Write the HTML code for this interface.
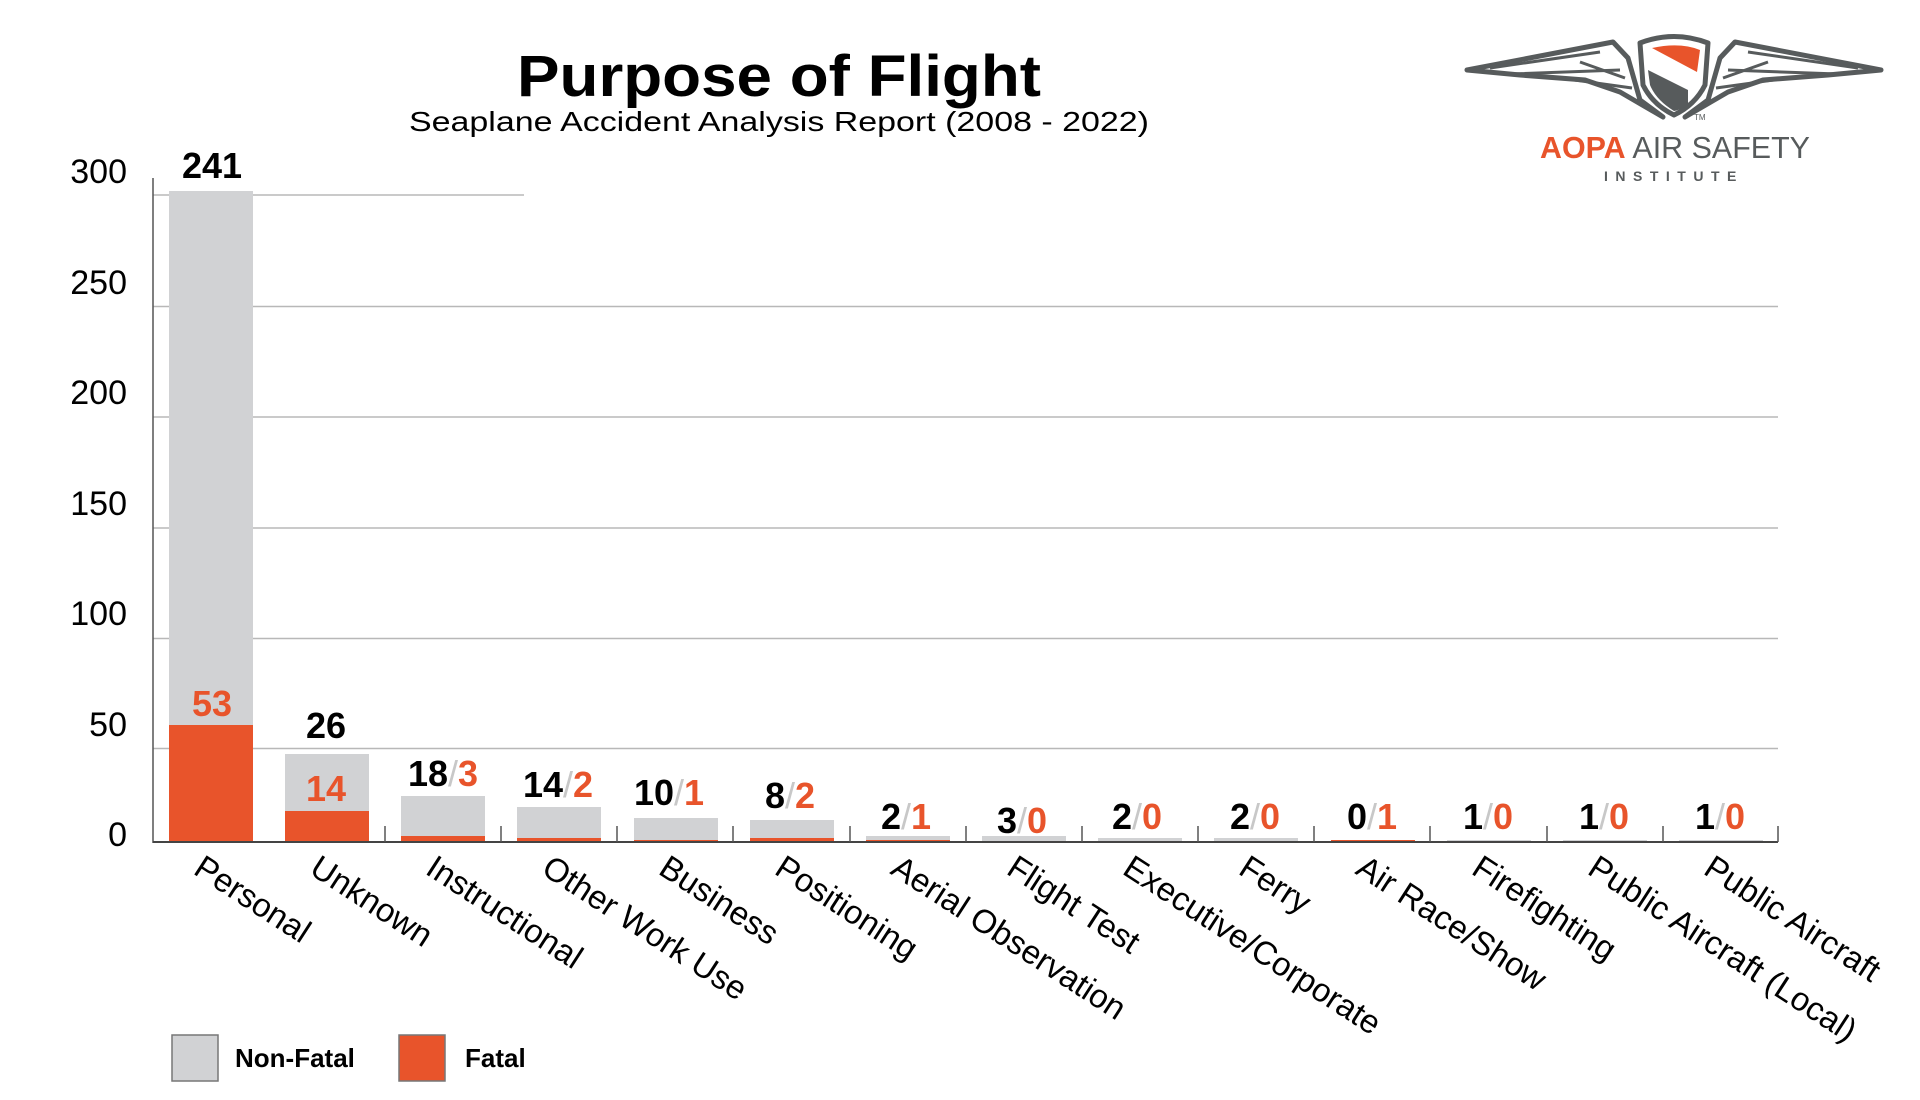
<!DOCTYPE html>
<html><head><meta charset="utf-8"><style>
html,body{margin:0;padding:0;background:#fff;}
svg{display:block;font-family:"Liberation Sans",sans-serif;}
</style></head><body>
<svg width="1920" height="1100" viewBox="0 0 1920 1100" xmlns="http://www.w3.org/2000/svg">
<rect width="1920" height="1100" fill="#fff"/>
<text x="517" y="96" font-size="58" font-weight="bold" fill="#000" textLength="524" lengthAdjust="spacingAndGlyphs">Purpose of Flight</text>
<text x="409" y="131" font-size="28" fill="#000" textLength="740" lengthAdjust="spacingAndGlyphs">Seaplane Accident Analysis Report (2008 - 2022)</text>

<!-- gridlines -->
<g stroke="#b8b8b8" stroke-width="1.5">
<line x1="153" y1="195" x2="524" y2="195"/>
<line x1="153" y1="306.5" x2="1778" y2="306.5"/>
<line x1="153" y1="417" x2="1778" y2="417"/>
<line x1="153" y1="528" x2="1778" y2="528"/>
<line x1="153" y1="638.5" x2="1778" y2="638.5"/>
<line x1="153" y1="748.5" x2="1778" y2="748.5"/>
</g>
<g font-size="34" fill="#000" text-anchor="end">
<text x="127" y="183">300</text>
<text x="127" y="294">250</text>
<text x="127" y="404">200</text>
<text x="127" y="515">150</text>
<text x="127" y="625">100</text>
<text x="127" y="736">50</text>
<text x="127" y="846">0</text>
</g>

<!-- bars -->
<g fill="#d1d2d4">
<rect x="169" y="191" width="84" height="651"/>
<rect x="285" y="754" width="84" height="88"/>
<rect x="401" y="796" width="84" height="46"/>
<rect x="517" y="807" width="84" height="35"/>
<rect x="634" y="818" width="84" height="24"/>
<rect x="750" y="820" width="84" height="22"/>
<rect x="866" y="836" width="84" height="6"/>
<rect x="982" y="836" width="84" height="6"/>
<rect x="1098" y="838" width="84" height="4"/>
<rect x="1214" y="838" width="84" height="4"/>
<rect x="1447" y="840" width="84" height="2"/>
<rect x="1563" y="840" width="84" height="2"/>
<rect x="1679" y="840" width="84" height="2"/>
</g>
<g fill="#e8542b">
<rect x="169" y="725" width="84" height="117"/>
<rect x="285" y="811" width="84" height="31"/>
<rect x="401" y="836" width="84" height="6"/>
<rect x="517" y="838" width="84" height="4"/>
<rect x="634" y="840" width="84" height="2"/>
<rect x="750" y="838" width="84" height="4"/>
<rect x="866" y="840" width="84" height="2"/>
<rect x="1331" y="840" width="84" height="2"/>
</g>
<!-- axes -->
<line x1="153" y1="178" x2="153" y2="843" stroke="#555" stroke-width="1.5"/>
<line x1="153" y1="842" x2="1778" y2="842" stroke="#444" stroke-width="2"/>
<g stroke="#555" stroke-width="1.5">
<line x1="385" y1="842" x2="385" y2="826"/><line x1="501" y1="842" x2="501" y2="826"/>
<line x1="617" y1="842" x2="617" y2="826"/><line x1="733" y1="842" x2="733" y2="826"/>
<line x1="850" y1="842" x2="850" y2="826"/><line x1="966" y1="842" x2="966" y2="826"/>
<line x1="1082" y1="842" x2="1082" y2="826"/><line x1="1198" y1="842" x2="1198" y2="826"/>
<line x1="1314" y1="842" x2="1314" y2="826"/><line x1="1430" y1="842" x2="1430" y2="826"/>
<line x1="1547" y1="842" x2="1547" y2="826"/><line x1="1663" y1="842" x2="1663" y2="826"/>
<line x1="1778" y1="842" x2="1778" y2="826"/>
</g>

<!-- value labels -->
<g font-size="36" font-weight="bold" text-anchor="middle" fill="#000">
<text x="212" y="178">241</text>
<text x="212" y="716" fill="#e8542b">53</text>
<text x="326" y="738">26</text>
<text x="326" y="801" fill="#e8542b">14</text>
<text x="443" y="786">18<tspan fill="#c8c8c8" font-weight="normal">/</tspan><tspan fill="#e8542b">3</tspan></text>
<text x="558" y="797">14<tspan fill="#c8c8c8" font-weight="normal">/</tspan><tspan fill="#e8542b">2</tspan></text>
<text x="669" y="805">10<tspan fill="#c8c8c8" font-weight="normal">/</tspan><tspan fill="#e8542b">1</tspan></text>
<text x="790" y="808">8<tspan fill="#c8c8c8" font-weight="normal">/</tspan><tspan fill="#e8542b">2</tspan></text>
<text x="906" y="829">2<tspan fill="#c8c8c8" font-weight="normal">/</tspan><tspan fill="#e8542b">1</tspan></text>
<text x="1022" y="833">3<tspan fill="#c8c8c8" font-weight="normal">/</tspan><tspan fill="#e8542b">0</tspan></text>
<text x="1137" y="829">2<tspan fill="#c8c8c8" font-weight="normal">/</tspan><tspan fill="#e8542b">0</tspan></text>
<text x="1255" y="829">2<tspan fill="#c8c8c8" font-weight="normal">/</tspan><tspan fill="#e8542b">0</tspan></text>
<text x="1372" y="829">0<tspan fill="#c8c8c8" font-weight="normal">/</tspan><tspan fill="#e8542b">1</tspan></text>
<text x="1488" y="829">1<tspan fill="#c8c8c8" font-weight="normal">/</tspan><tspan fill="#e8542b">0</tspan></text>
<text x="1604" y="829">1<tspan fill="#c8c8c8" font-weight="normal">/</tspan><tspan fill="#e8542b">0</tspan></text>
<text x="1720" y="829">1<tspan fill="#c8c8c8" font-weight="normal">/</tspan><tspan fill="#e8542b">0</tspan></text>
</g>

<!-- x labels -->
<g font-size="33" fill="#000">
<text transform="translate(192,873) rotate(33)">Personal</text>
<text transform="translate(308,873) rotate(33)">Unknown</text>
<text transform="translate(424,873) rotate(33)">Instructional</text>
<text transform="translate(540,873) rotate(33)">Other Work Use</text>
<text transform="translate(657,873) rotate(33)">Business</text>
<text transform="translate(773,873) rotate(33)">Positioning</text>
<text transform="translate(889,873) rotate(33)">Aerial Observation</text>
<text transform="translate(1005,873) rotate(33)">Flight Test</text>
<text transform="translate(1121,873) rotate(33)">Executive/Corporate</text>
<text transform="translate(1237,873) rotate(33)">Ferry</text>
<text transform="translate(1354,873) rotate(33)">Air Race/Show</text>
<text transform="translate(1470,873) rotate(33)">Firefighting</text>
<text transform="translate(1586,873) rotate(33)">Public Aircraft (Local)</text>
<text transform="translate(1702,873) rotate(33)">Public Aircraft</text>
</g>

<!-- legend -->
<rect x="172" y="1035" width="46" height="46" fill="#d1d2d4" stroke="#777" stroke-width="1.5"/>
<text x="235" y="1067" font-size="26" font-weight="bold" fill="#000">Non-Fatal</text>
<rect x="399" y="1035" width="46" height="46" fill="#e8542b" stroke="#777" stroke-width="1.5"/>
<text x="465" y="1067" font-size="26" font-weight="bold" fill="#000">Fatal</text>

<!-- logo -->
<g fill="none" stroke="#575b5c" stroke-width="5" stroke-linejoin="round">
<path d="M1467,70 L1613,42 L1628,58 L1640,100 L1663,117 L1620,92 L1585,80 L1520,75 Z"/>
<path d="M1881,70 L1735,42 L1720,58 L1708,100 L1685,117 L1728,92 L1763,80 L1828,75 Z"/>
<path d="M1490,68 L1600,52 M1510,74 L1620,70 M1560,78 L1632,88 M1580,62 L1625,78 M1858,68 L1748,52 M1838,74 L1728,70 M1788,78 L1716,88 M1768,62 L1723,78" stroke-width="3"/>
<path d="M1640,43 Q1674,30 1708,43 L1705,85 Q1695,105 1674,115 Q1653,105 1643,85 Z" fill="#fff"/>
</g>
<path d="M1652,48 Q1680,42 1700,50 L1697,72 Z" fill="#e8542b"/>
<path d="M1648,70 L1688,90 L1688,105 Q1680,110 1674,111 Q1656,100 1650,85 Z" fill="#575b5c"/>
<text x="1694" y="120" font-size="8" fill="#575b5c">TM</text>
<text x="1540" y="158" font-size="31" fill="#575b5c" textLength="270" lengthAdjust="spacingAndGlyphs"><tspan fill="#e8542b" font-weight="bold">AOPA</tspan> AIR SAFETY</text>
<text x="1604" y="181" font-size="14" font-weight="bold" fill="#575b5c" letter-spacing="7.5">INSTITUTE</text>
</svg>
</body></html>
